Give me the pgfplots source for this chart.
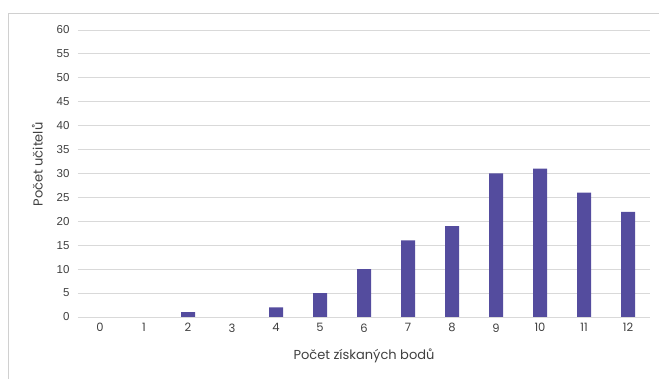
\documentclass[border=0pt]{standalone}
\usepackage{pgfplots}
\pgfplotsset{compat=1.18}
\usepackage{fontspec}
\setmainfont{Poppins}
\newfontfamily\tickfont{Liberation Sans}
\definecolor{barc}{HTML}{544C9E}
\definecolor{gridc}{HTML}{D9D9D9}
\definecolor{framec}{HTML}{D0D0D0}
\definecolor{textc}{HTML}{404040}
\begin{document}
\begin{tikzpicture}[x=1pt,y=1pt]
\useasboundingbox (-78,-62) rectangle (581,317);
\draw[framec, line width=1pt] (-69,-80) -- (-69,303) -- (600,303);
\begin{axis}[
  at={(0,0)}, anchor=south west,
  scale only axis,
  width=572pt, height=287pt,
  xmin=-0.5, xmax=12.5,
  ymin=0, ymax=60,
  ytick={0,5,...,60},
  xtick={0,...,12},
  axis line style={draw=none},
  major tick length=0pt,
  ymajorgrids,
  grid style={gridc, line width=0.9pt},
  tick label style={textc, font=\fontsize{11.5}{13}\selectfont},
  yticklabel style={font=\tickfont\fontsize{11.5}{13}\selectfont, xshift=-5pt},
  xticklabel style={yshift=-3pt},
  /pgf/number format/assume math mode=true,
  xlabel={Počet získaných bodů},
  ylabel={Počet učitelů},
  label style={textc, font=\fontsize{13}{15}\selectfont},
  xlabel style={yshift=-10pt},
  ylabel style={yshift=7pt, xshift=9pt},
  clip=false,
]
% categories with no teachers (0, 1, 3) have no bar
\addplot[ybar, bar width=14pt, fill=barc, draw=none] coordinates {
  (2,1) (4,2) (5,5) (6,10)
  (7,16) (8,19) (9,30) (10,31) (11,26) (12,22)
};
\end{axis}
\end{tikzpicture}
\end{document}
